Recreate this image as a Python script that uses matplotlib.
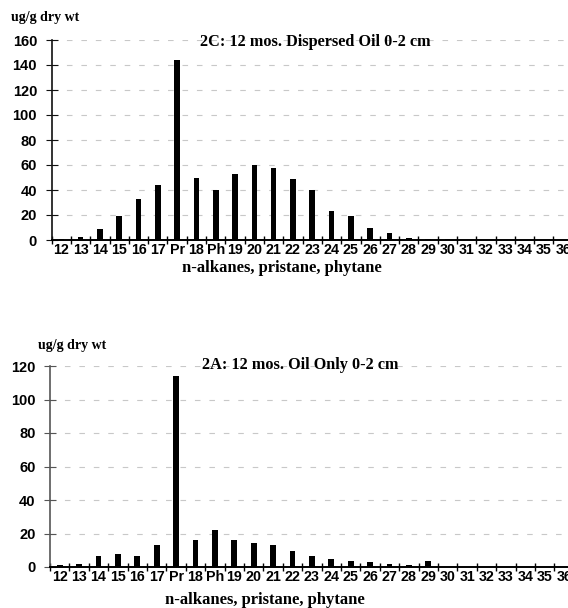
import matplotlib
matplotlib.use("Agg")
import matplotlib.pyplot as plt

labels = ["12", "13", "14", "15", "16", "17", "Pr", "18", "Ph", "19", "20", "21", "22",
          "23", "24", "25", "26", "27", "28", "29", "30", "31", "32", "33", "34", "35", "36"]

# 2C: 12 mos. Dispersed Oil 0-2 cm
disp = [0.5, 2.5, 9, 19, 33, 44, 144, 50, 40, 53, 60, 58, 49,
        40, 23, 19, 10, 5.5, 2, 1, 0.5, 0.3, 0.3, 0.3, 0.3, 0.3, 0.3]
# 2A: 12 mos. Oil Only 0-2 cm
oil = [1, 2, 6.5, 8, 6.5, 13, 114, 16, 22, 16, 14.5, 13, 9.5,
       6.5, 5, 3.5, 3, 2, 1, 3.5, 0, 0, 0, 0, 0, 0, 0]

W, H = 568, 608
fig = plt.figure(figsize=(W / 100, H / 100), dpi=100)

sans = ["Liberation Sans", "DejaVu Sans"]
serif = ["Liberation Serif", "DejaVu Serif"]


def panel(left, step, bottom, top, vals, ymax, spine_col, title, tx, ty, ux, uy, lx, ly):
    right = left + 27 * step
    ax = fig.add_axes([left / W, 1 - bottom / H, (right - left) / W, (bottom - top) / H])
    x = range(len(vals))
    ax.bar(x, vals, width=0.29, color="black", zorder=3)
    ax.set_xlim(-0.5, 26.5)
    ax.set_ylim(0, ymax)
    yt = list(range(0, ymax + 1, 20))
    ax.set_yticks(yt)
    ax.set_yticklabels([str(v) for v in yt], family=sans, fontweight="bold", fontsize=10.5)
    for v in yt[1:]:
        ax.axhline(v, color="#c8c8c8", lw=0.8, ls=(0, (5, 8)), zorder=1)
    # category boundaries carry the ticks, names sit in between
    ax.set_xticks([i + 0.5 for i in range(-1, 27)])
    ax.set_xticklabels([])
    ax.set_xticks(list(x), minor=True)
    ax.set_xticklabels(labels, minor=True, family=sans, fontweight="bold", fontsize=10.3)
    ax.tick_params(axis="x", which="major", direction="inout", length=6, width=1)
    ax.tick_params(axis="x", which="minor", length=0, pad=2)
    ax.tick_params(axis="y", direction="inout", length=9, width=0.8, pad=6, color=spine_col)
    for s in ["top", "right"]:
        ax.spines[s].set_visible(False)
    ax.spines["left"].set_color(spine_col)
    ax.spines["left"].set_linewidth(1.2)
    ax.spines["bottom"].set_linewidth(1.4)
    fig.text(tx / W, 1 - ty / H, title, ha="center", va="center",
             family=serif, fontweight="bold", fontsize=11.7)
    fig.text(ux / W, 1 - uy / H, "ug/g dry wt", ha="center", va="center",
             family=serif, fontweight="bold", fontsize=10)
    fig.text(lx / W, 1 - ly / H, "n-alkanes, pristane, phytane", ha="center", va="center",
             family=serif, fontweight="bold", fontsize=12)
    return ax


panel(51.7, 19.3, 240, 40, disp, 160, "#111111", "2C: 12 mos. Dispersed Oil 0-2 cm",
      315, 42, 45, 17, 282, 268)
panel(50, 19.4, 567, 366, oil, 120, "#555555", "2A: 12 mos. Oil Only 0-2 cm",
      300, 365, 72, 346, 265, 600)

fig.savefig("out.png", dpi=100)
